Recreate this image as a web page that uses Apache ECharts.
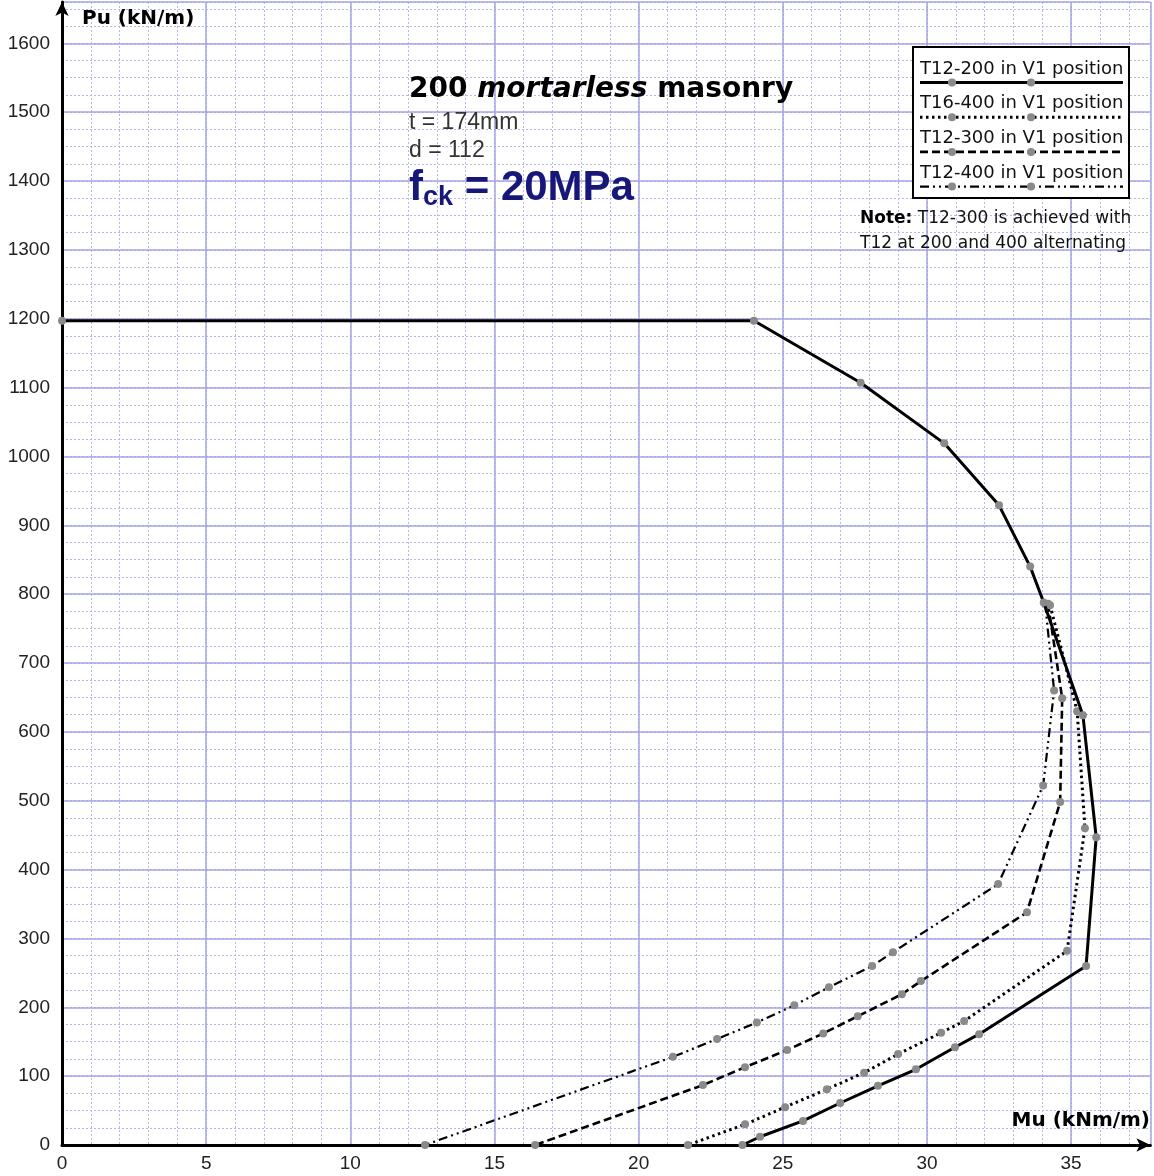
<!DOCTYPE html>
<html>
<head>
<meta charset="utf-8">
<script src="https://cdn.jsdelivr.net/npm/echarts@6/dist/echarts.min.js"></script>
<style>
html,body{margin:0;padding:0;background:#fff;}
#chart{width:1154px;height:1176px;}
</style>
</head>
<body>
<div id="chart"></div>
<script>
// ---------- DATA ----------
const seriesNames = ['T12-200 in V1 position', 'T16-400 in V1 position', 'T12-300 in V1 position', 'T12-400 in V1 position'];

const t12_200_Mu = [0, 24.0, 27.7, 30.6, 32.5, 33.58, 34.05, 35.41, 35.87, 35.52, 31.81, 30.97, 29.62, 28.3, 26.99, 25.7, 24.21, 23.6];
const t12_200_Pu = [1197, 1197, 1107, 1019, 929, 840, 788, 624, 447, 260, 161, 142, 110, 86, 61, 35, 12, 0];

const t16_400_Mu = [34.27, 35.21, 35.48, 34.86, 31.29, 30.49, 29.0, 27.82, 26.53, 25.08, 23.69, 21.71];
const t16_400_Pu = [784, 630, 460, 282, 180, 163, 132, 105, 81, 55, 30, 0];

const t12_300_Mu = [34.2, 34.69, 34.62, 33.47, 29.79, 29.13, 27.6, 26.4, 25.15, 23.69, 22.23, 16.41];
const t12_300_Pu = [786, 649, 498, 338, 238, 219, 187, 162, 138, 113, 87, 0];

const t12_400_Mu = [34.1, 34.41, 34.03, 32.47, 28.82, 28.1, 26.6, 25.4, 24.1, 22.72, 21.19, 12.59];
const t12_400_Pu = [786, 660, 522, 379, 280, 260, 229, 203, 178, 154, 128, 0];

const xMax = 37.75, xMajor = 5, xMinor = 1;
const yMax = 1660, yMajor = 100, yMinor = 25;

const xAxisName = 'Mu (kNm/m)';
const yAxisName = 'Pu (kN/m)';
const tText = 't = 174mm';
const dText = 'd = 112';
const noteLines = ['T12-300 is achieved with', 'T12 at 200 and 400 alternating'];

// ---------- STYLES ----------
const dashStyles = ['solid', [2.5, 3.5], [8, 4], [9, 4, 2, 4, 2, 4]];
const lineWidths = [3, 3, 2.6, 2.2];
const markerColor = '#8a8a8a';
const seriesMu = [t12_200_Mu, t16_400_Mu, t12_300_Mu, t12_400_Mu];
const seriesPu = [t12_200_Pu, t16_400_Pu, t12_300_Pu, t12_400_Pu];

const series = seriesNames.map((name, i) => ({
  name: name,
  type: 'line',
  xAxisIndex: 0,
  yAxisIndex: 0,
  data: seriesMu[i].map((m, k) => [m, seriesPu[i][k]]),
  symbol: 'circle',
  symbolSize: 8,
  showSymbol: true,
  itemStyle: { color: markerColor },
  lineStyle: { color: '#000', width: lineWidths[i], type: dashStyles[i] },
  z: 10 - i,
  animation: false
})).reverse();

const dv = '"DejaVu Sans", sans-serif';
const lib = '"Liberation Sans", Arial, sans-serif';

// legend graphics
const legendGraphics = [];
legendGraphics.push({
  type: 'rect', shape: { x: 913, y: 47, width: 216, height: 151 },
  style: { fill: '#fff', stroke: '#000', lineWidth: 2 }, z: 100
});
seriesNames.forEach((name, i) => {
  const ty = 69 + i * 34.7;
  const ly = 82.5 + i * 34.7;
  legendGraphics.push({
    type: 'text', z: 101,
    style: { text: name, x: 920, y: ty, font: '18px ' + dv, fill: '#111', verticalAlign: 'middle' }
  });
  const ls = { stroke: '#000', lineWidth: lineWidths[i] };
  if (dashStyles[i] !== 'solid') ls.lineDash = dashStyles[i];
  legendGraphics.push({ type: 'line', z: 101, shape: { x1: 920, y1: ly, x2: 1123, y2: ly }, style: ls });
  [952, 1031].forEach(cx => legendGraphics.push({
    type: 'circle', z: 102, shape: { cx: cx, cy: ly, r: 4 }, style: { fill: markerColor }
  }));
});

const chart = echarts.init(document.getElementById('chart'), null, { renderer: 'canvas' });
const grid = { left: 62, right: 3.6, top: 2, bottom: 31 };

chart.setOption({
  animation: false,
  backgroundColor: '#fff',
  grid: grid,
  xAxis: [
    {
      type: 'value', min: 0, max: xMax, interval: xMajor,
      axisLine: { show: true, onZero: false, lineStyle: { color: '#000', width: 3 }, symbol: ['none', 'arrow'], symbolSize: [10, 14] },
      axisTick: { show: false },
      axisLabel: { color: '#222', fontSize: 19, fontFamily: 'Liberation Sans', margin: 9, showMaxLabel: false, formatter: v => String(v) },
      splitLine: { show: true, lineStyle: { color: '#a4a4e6', width: 1.5 } },
      z: 5
    },
    {
      type: 'value', min: 0, max: xMax, interval: xMinor, position: 'bottom',
      axisLine: { show: false }, axisTick: { show: false }, axisLabel: { show: false },
      splitLine: { show: true, lineStyle: { color: '#b8b8e4', width: 1, type: [2, 2] } },
      z: 1
    }
  ],
  yAxis: [
    {
      type: 'value', min: 0, max: yMax, interval: yMajor,
      axisLine: { show: true, onZero: false, lineStyle: { color: '#000', width: 3 }, symbol: ['none', 'arrow'], symbolSize: [10, 14] },
      axisTick: { show: false },
      axisLabel: { color: '#222', fontSize: 19, fontFamily: 'Liberation Sans', margin: 12, showMaxLabel: false, formatter: v => String(v) },
      splitLine: { show: true, lineStyle: { color: '#a4a4e6', width: 1.5 } },
      z: 5
    },
    {
      type: 'value', min: 0, max: yMax, interval: yMinor, position: 'left',
      axisLine: { show: false }, axisTick: { show: false }, axisLabel: { show: false },
      splitLine: { show: true, lineStyle: { color: '#b8b8e4', width: 1, type: [2, 2] } },
      z: 1
    }
  ],
  series: series,
  graphic: [
    { type: 'text', z: 50, style: { text: yAxisName, x: 82, y: 19, font: 'bold 20px ' + dv, fill: '#000', verticalAlign: 'middle' } },
    { type: 'text', z: 50, style: { text: xAxisName, x: 1150, y: 1121, font: 'bold 20px ' + dv, fill: '#000', align: 'right', verticalAlign: 'middle' } },
    { type: 'text', z: 50, style: {
        text: '{b|200 }{i|mortarless}{b| masonry}', x: 409, y: 90, verticalAlign: 'middle',
        rich: {
          b: { fontSize: 28, fontWeight: 'bold', fontFamily: 'DejaVu Sans', fill: '#000' },
          i: { fontSize: 28, fontWeight: 'bold', fontStyle: 'italic', fontFamily: 'DejaVu Sans', fill: '#000' }
        }
    } },
    { type: 'text', z: 50, style: { text: tText, x: 409, y: 123, font: '23px ' + lib, fill: '#333', verticalAlign: 'middle' } },
    { type: 'text', z: 50, style: { text: dText, x: 409, y: 151, font: '23px ' + lib, fill: '#333', verticalAlign: 'middle' } },
    { type: 'text', z: 50, style: {
        text: '{a|f}{s|ck}{a| = 20MPa}', x: 409, y: 188, verticalAlign: 'middle',
        rich: {
          a: { fontSize: 42, fontWeight: 'bold', fontFamily: 'Liberation Sans', fill: '#17177a' },
          s: { fontSize: 27, fontWeight: 'bold', fontFamily: 'Liberation Sans', fill: '#17177a', padding: [20, 0, 0, 0] }
        }
    } },
    { type: 'text', z: 50, style: {
        text: '{n|Note:} ' + noteLines[0], x: 860, y: 219, verticalAlign: 'middle',
        font: '17px ' + dv, fill: '#111',
        rich: { n: { fontSize: 17, fontWeight: 'bold', fontFamily: 'DejaVu Sans', fill: '#000' } }
    } },
    { type: 'text', z: 50, style: { text: noteLines[1], x: 860, y: 244, font: '17px ' + dv, fill: '#111', verticalAlign: 'middle' } }
  ].concat(legendGraphics)
});
</script>
</body>
</html>
